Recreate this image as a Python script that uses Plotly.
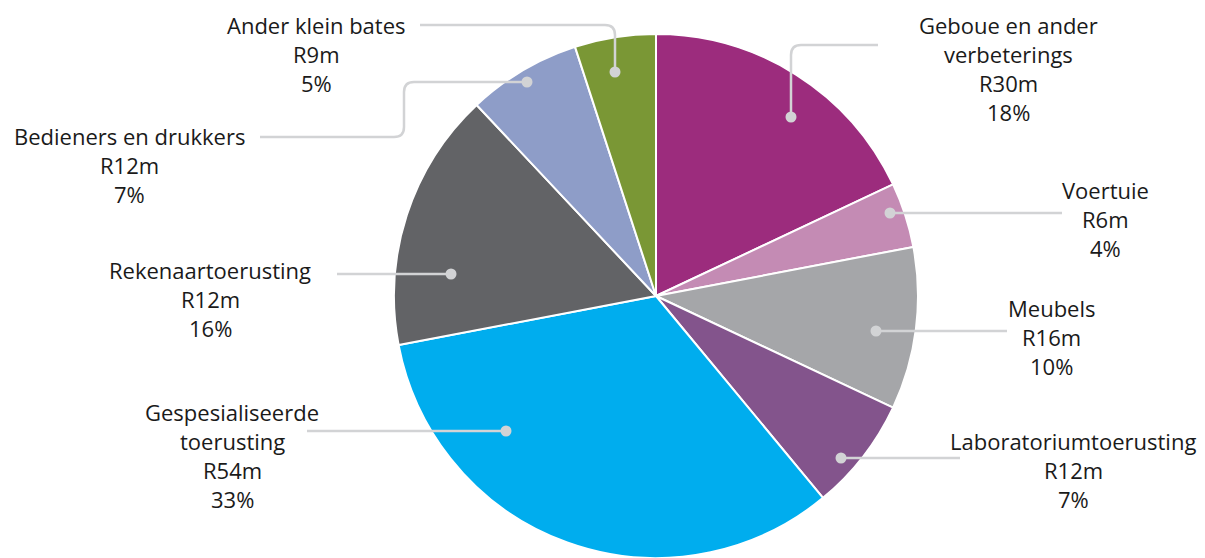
import plotly.graph_objects as go

# ---- data ----
categories = ["Geboue en ander verbeterings", "Voertuie", "Meubels",
              "Laboratoriumtoerusting", "Gespesialiseerde toerusting",
              "Rekenaartoerusting", "Bedieners en drukkers", "Ander klein bates"]
amounts_rm = [30, 6, 16, 12, 54, 12, 12, 9]
percents = [18, 4, 10, 7, 33, 16, 7, 5]
label_lines = [["Geboue en ander", "verbeterings"], ["Voertuie"], ["Meubels"],
               ["Laboratoriumtoerusting"], ["Gespesialiseerde", "toerusting"],
               ["Rekenaartoerusting"], ["Bedieners en drukkers"], ["Ander klein bates"]]

# ---- styles ----
colors = ["#9C2C7D", "#C48BB4", "#A5A6A9", "#83548C", "#00ADEE",
          "#626366", "#8E9DC8", "#7A9735"]
W, H = 1205, 558
CX, CY, R = 656, 296, 262
LINE_COL = "#D2D3D5"
FONT = "Open Sans"
FS = 22
LH = 29
DOT_R = 5.5

# callout layout (pixel space): text centre x, text centre y, dot position, leader path
callouts = [
    (1008, 68, (791, 117), "M791,117 V55 Q791,45 801,45 H878"),
    (1105, 219, (890, 213), "M890,213 H1062"),
    (1051, 337, (876, 331), "M876,331 H1007"),
    (1073, 470, (841, 458), "M841,458 H960"),
    (232, 455, (506, 431), "M506,431 H307"),
    (210, 299, (451, 274), "M451,274 H337"),
    (129, 165, (527, 82), "M260,137 H394 Q404,137 404,127 V92 Q404,82 414,82 H527"),
    (316, 54, (615, 72), "M420,25 H605 Q615,25 615,35 V72"),
]

fig = go.Figure()
fig.add_trace(go.Pie(
    labels=categories, values=percents, sort=False, direction="clockwise",
    rotation=0, marker=dict(colors=colors, line=dict(color="white", width=2)),
    textinfo="none", hoverinfo="label+percent", showlegend=False,
    domain=dict(x=[(CX - R) / W, (CX + R) / W], y=[1 - (CY + R) / H, 1 - (CY - R) / H]),
))

shapes = []
annotations = []
for i, (tx, ty, dot, path) in enumerate(callouts):
    shapes.append(dict(type="path", path=path, xref="x", yref="y",
                       line=dict(color=LINE_COL, width=2.5), layer="above"))
    shapes.append(dict(type="circle", xref="x", yref="y",
                       x0=dot[0] - DOT_R, x1=dot[0] + DOT_R,
                       y0=dot[1] - DOT_R, y1=dot[1] + DOT_R,
                       fillcolor=LINE_COL, line=dict(width=0), layer="above"))
    lines = label_lines[i] + [f"R{amounts_rm[i]}m", f"{percents[i]}%"]
    n = len(lines)
    for j, ln in enumerate(lines):
        annotations.append(dict(x=tx, y=ty + (j - (n - 1) / 2) * LH, xref="x", yref="y",
                                text=ln, showarrow=False, xanchor="center", yanchor="middle",
                                font=dict(family=FONT, size=FS, color="#1A1A1A")))

fig.update_layout(
    width=W, height=H, margin=dict(l=0, r=0, t=0, b=0),
    paper_bgcolor="white", plot_bgcolor="rgba(0,0,0,0)",
    xaxis=dict(range=[0, W], visible=False, fixedrange=True, domain=[0, 1]),
    yaxis=dict(range=[H, 0], visible=False, fixedrange=True, domain=[0, 1]),
    shapes=shapes, annotations=annotations,
)

fig.write_html("out.html", config={"displayModeBar": False},
               post_script="document.body.style.margin='0';document.body.style.overflow='hidden';")
